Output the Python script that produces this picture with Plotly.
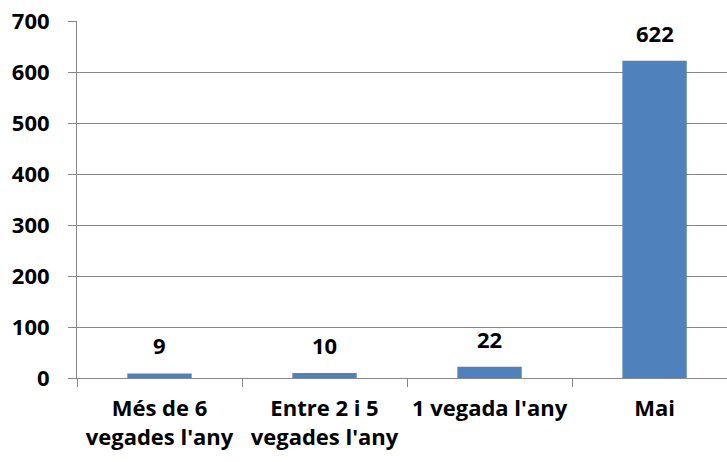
import plotly.graph_objects as go

categories = ["Més de 6<br>vegades l'any", "Entre 2 i 5<br>vegades l'any", "1 vegada l'any", "Mai"]
values = [9, 10, 22, 622]
y_ticks = [0, 100, 200, 300, 400, 500, 600, 700]

bar_color = "#4F81BD"
axis_gray = "#868686"
font_family = "Open Sans"
font_size = 22

fig = go.Figure(
    go.Bar(
        x=categories,
        y=values,
        marker=dict(color=bar_color, line=dict(width=0)),
        width=0.39,
        hoverinfo="skip",
    )
)

# value labels above each bar
for cat, val in zip(categories, values):
    fig.add_annotation(
        x=cat, y=val, text=f"<b>{val}</b>", showarrow=False,
        yanchor="bottom", yshift=11,
        font=dict(family=font_family, size=font_size, color="black"),
    )

fig.update_layout(
    width=727, height=462,
    margin=dict(l=77, r=0, t=21, b=84),
    paper_bgcolor="white", plot_bgcolor="white",
    showlegend=False,
    font=dict(family=font_family, size=font_size, color="black"),
)

fig.update_xaxes(
    range=[-0.5, 3.439],
    showline=True, linecolor=axis_gray, linewidth=1,
    ticks="outside", tickson="boundaries", ticklen=8, tickcolor=axis_gray,
    showgrid=False, zeroline=False,
    tickfont=dict(family=font_family, size=font_size, color="black", weight="bold"),
    ticklabelstandoff=11,
)

fig.update_yaxes(
    range=[0, 700], tickvals=y_ticks,
    showline=True, linecolor=axis_gray, linewidth=1,
    ticks="outside", ticklen=8, tickcolor=axis_gray,
    showgrid=True, gridcolor=axis_gray, gridwidth=1,
    zeroline=False,
    tickfont=dict(family=font_family, size=font_size, color="black", weight="bold"),
    ticklabelstandoff=14,
)

fig.write_html("out.html")
